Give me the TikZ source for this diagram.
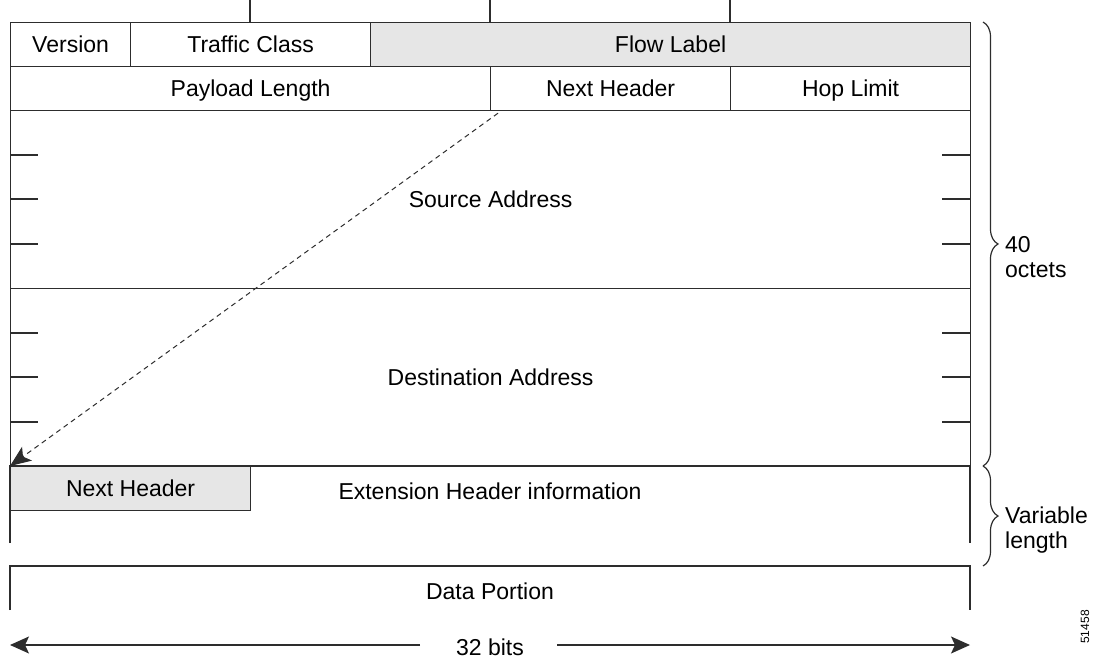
\documentclass[tikz,border=0pt]{standalone}
\usepackage{fontspec}
\setmainfont{Liberation Sans}
\usetikzlibrary{decorations.pathreplacing,arrows.meta,calc}
\definecolor{ln}{RGB}{45,45,45}
\definecolor{shade}{RGB}{230,230,230}
\tikzset{
  txt/.style={font=\fontsize{23}{26}\selectfont, text=black},
  cell/.style={draw=ln, line width=1.2pt, inner sep=0pt, anchor=north west, txt, text height=16.5pt, text depth=0pt},
  lbl/.style={inner sep=0pt, txt, text height=16.5pt, text depth=0pt},
  rule/.style={draw=ln, line width=1.2pt},
  br/.style={draw=ln, line width=1.2pt, decorate, decoration={brace, amplitude=15pt}},
  side/.style={inner sep=0pt, anchor=west, align=left, font=\fontsize{23}{25.5}\selectfont},
  bigarrow/.style={draw=ln, line width=1.2pt, -{Stealth[length=19pt,width=17pt,inset=4pt]}},
}
\begin{document}
\begin{tikzpicture}[x=1pt,y=-1pt]
\useasboundingbox (0,0) rectangle (1106,660);
% top ticks
\foreach \t/\x in {ta/250,tb/490,tc/730}{
  \coordinate (\t1) at (\x,0); \coordinate (\t2) at (\x,22);
  \draw[rule] (\t1) -- (\t2);
}
% row 1
\node[cell, minimum width=120pt, minimum height=44pt] (ver) at (10,22) {Version};
\node[cell, minimum width=240pt, minimum height=44pt] (tc) at (130,22) {Traffic Class};
\node[cell, fill=shade, minimum width=600pt, minimum height=44pt] (fl) at (370,22) {Flow Label};
% row 2
\node[cell, minimum width=480pt, minimum height=44pt] (pl) at (10,66) {Payload Length};
\node[cell, minimum width=240pt, minimum height=44pt] (nh) at (490,66) {Next Header};
\node[cell, minimum width=240pt, minimum height=44pt] (hl) at (730,66) {Hop Limit};
% addresses
\node[cell, minimum width=960pt, minimum height=178pt] (src) at (10,110) {Source Address};
\node[cell, minimum width=960pt, minimum height=178pt] (dst) at (10,288) {Destination Address};
\foreach \y in {155,199,244,333,377,422}{
  \draw[rule] (10,\y) -- (38,\y);
  \draw[rule] (942,\y) -- (970,\y);
}
% extension header
\coordinate (e1) at (10,543); \coordinate (e2) at (10,466);
\coordinate (e3) at (970,466); \coordinate (e4) at (970,543);
\draw[rule] (e1) -- (e2) -- (e3) -- (e4);
\node[cell, fill=shade, minimum width=240pt, minimum height=44pt] (nh2) at (10,466) {Next Header};
\node[lbl] (ext) at (490,491) {Extension Header information};
% data portion
\coordinate (d1) at (10,610); \coordinate (d2) at (10,566);
\coordinate (d3) at (970,566); \coordinate (d4) at (970,610);
\draw[rule] (d1) -- (d2) -- (d3) -- (d4);
\node[lbl] (data) at (490,591) {Data Portion};
% dashed arrow
\coordinate (ds) at ($(nh.south west)+(8,2)$);
\draw[ln, line width=1pt, dash pattern=on 5pt off 4pt, -{Stealth[length=21pt,width=17pt,inset=5pt]}] (ds) -- (nh2.north west);
% braces
\draw[br] (983,22) -- (983,466);
\draw[br] (983,466) -- (983,566);
\node[side] (oct) at (1005,257) {40\\octets};
\node[side] (var) at (1005,530) {Variable\\length};
% 32 bits
\node[lbl] (bits) at (490,647) {32 bits};
\coordinate (al) at (10,645); \coordinate (ar) at (970,645);
\coordinate (bl) at (420,645);
\coordinate (bt) at (557,645);
\draw[bigarrow] (bl) -- (al);
\draw[bigarrow] (bt) -- (ar);
% figure number
\node[inner sep=0pt, rotate=90, font=\fontsize{12}{14}\selectfont] (fig) at (1085,627) {51458};
\end{tikzpicture}
\end{document}
